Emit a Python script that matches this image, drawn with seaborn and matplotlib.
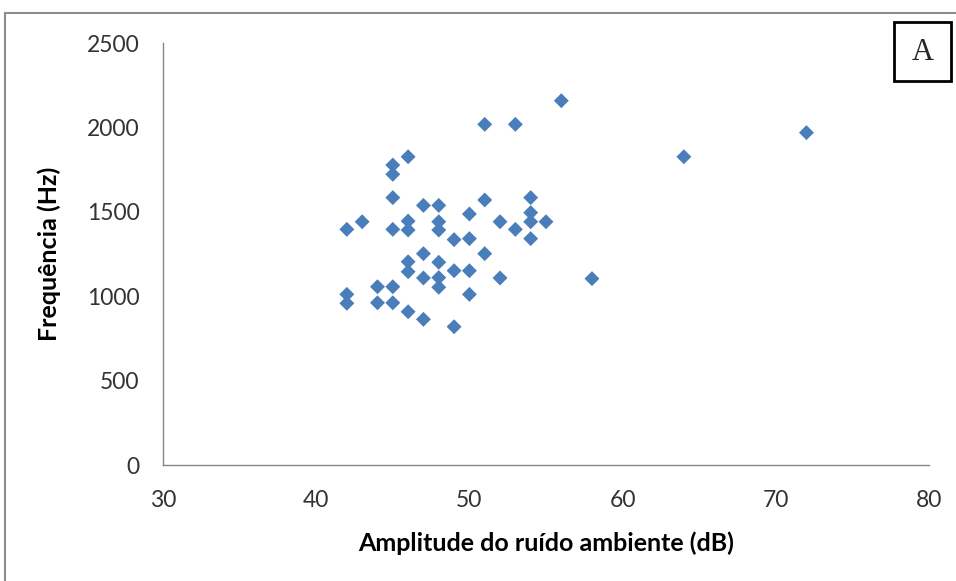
import matplotlib
matplotlib.use("Agg")
import matplotlib.pyplot as plt
from matplotlib.patches import Rectangle
import seaborn as sns
import pandas as pd

amplitude = [42, 42, 42, 43, 44, 44,
             45, 45, 45, 45, 45, 45,
             46, 46, 46, 46, 46, 46,
             47, 47, 47, 47,
             48, 48, 48, 48, 48, 48,
             49, 49, 49,
             50, 50, 50, 50,
             51, 51, 51,
             52, 52, 53, 53,
             54, 54, 54, 54,
             55, 56, 58, 64, 72]
frequencia = [1396, 1011, 958, 1441, 1056, 961,
              1777, 1722, 1584, 1396, 1056, 961,
              1826, 1445, 1392, 1204, 1145, 908,
              1538, 1252, 1108, 863,
              1538, 1441, 1392, 1201, 1110, 1053,
              1335, 1151, 819,
              1487, 1341, 1151, 1011,
              2018, 1570, 1252,
              1441, 1108, 2018, 1396,
              1584, 1495, 1441, 1341,
              1441, 2158, 1104, 1826, 1969]
x_ticks = [30, 40, 50, 60, 70, 80]
y_ticks = [0, 500, 1000, 1500, 2000, 2500]

df = pd.DataFrame({"amp": amplitude, "freq": frequencia})

sns.set_style("white")
plt.rcParams["font.family"] = ["Lato", "DejaVu Sans"]

W, H = 956, 581
fig = plt.figure(figsize=(W / 100, H / 100), dpi=100)
ax = fig.add_axes([163 / W, 1 - 465 / H, (929 - 163) / W, (465 - 43) / H])

sns.scatterplot(data=df, x="amp", y="freq", marker="D", s=58,
                color="#4a7ebb", edgecolor="none", ax=ax)

ax.set_xlim(30, 80)
ax.set_ylim(0, 2500)
ax.set_xticks(x_ticks)
ax.set_yticks(y_ticks)
ax.tick_params(axis="both", labelsize=16.5, labelcolor="#333333", length=5.8,
               width=1, direction="out", color="#868686")
ax.tick_params(axis="y", pad=11)
ax.tick_params(axis="x", pad=12)
for side in ["top", "right"]:
    ax.spines[side].set_visible(False)
for side in ["left", "bottom"]:
    ax.spines[side].set_color("#868686")
    ax.spines[side].set_linewidth(1)

ax.set_xlabel("Amplitude do ruído ambiente (dB)", fontsize=18,
              fontweight="bold", color="#000000", labelpad=15)
ax.set_ylabel("Frequência (Hz)", fontsize=18, fontweight="bold",
              color="#000000", labelpad=19)

# outer gray frame
fig.patches.append(Rectangle((5 / W, -0.1), 1.2, 1 - 13 / H + 0.1,
                             transform=fig.transFigure, fill=False,
                             edgecolor="#8c8c8c", linewidth=1.5))
# "A" label box
fig.patches.append(Rectangle((894 / W, 1 - 81 / H), (951 - 894) / W, (81 - 22) / H,
                             transform=fig.transFigure, fill=True, facecolor="white",
                             edgecolor="black", linewidth=2))
fig.text(923 / W, 1 - 53 / H, "A", ha="center", va="center",
         fontsize=22, family=["Liberation Serif", "DejaVu Serif"])

fig.savefig("out.png", dpi=100)
